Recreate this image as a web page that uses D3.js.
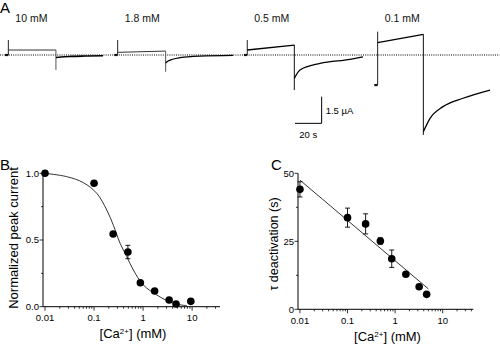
<!DOCTYPE html>
<html><head><meta charset="utf-8">
<script src="https://cdn.jsdelivr.net/npm/d3@7"></script>
<style>
html,body{margin:0;padding:0;background:#fff;}
svg{display:block;font-family:"Liberation Sans",Arial,sans-serif;}
</style></head>
<body><svg id="c" width="500" height="344"></svg>
<script>
// ---------- Panel A: current traces (time in s, current in µA) ----------
const sweepLabels = ["10 mM", "1.8 mM", "0.5 mM", "0.1 mM"];
const sweepOn = [2.5, 84.5, 181.7, 279.5];
const spikeTop = [0.84, 0.84, 0.84, 1.31];
const spikeBottom = [0, 0, 0, -1.69];
const plateauStart = [0.28, 0.15, 0.28, 0.69];
const sweepOff = [38.2, 120.5, 217, 313.8];
const plateauEnd = [0.28, 0.22, 0.56, 1.16];
const tailPeak = [-0.84, -0.94, -1.97, -4.49];
const tailTimes = [
  [38.2, 42, 50, 60, 73.5],
  [120.5, 122.3, 131.3, 146.3, 171],
  [217, 221.3, 236.3, 258.8, 268.5],
  [313.8, 318.8, 328.5, 343.5, 363.8]
];
const tailCurrents = [
  [-0.14, -0.11, -0.08, -0.06, -0.04],
  [-0.45, -0.34, -0.15, -0.06, -0.02],
  [-1.31, -0.84, -0.47, -0.24, -0.1],
  [-4.31, -3.56, -2.9, -2.43, -1.97]
];
const scaleBarTime = 20;      // s
const scaleBarCurrent = 1.5;  // µA

// ---------- Panel B: normalized peak current ----------
const concB = [0.01, 0.1, 0.245, 0.49, 0.88, 1.72, 3.4, 4.7, 9.4];
const peakB = [1.0, 0.925, 0.545, 0.41, 0.18, 0.118, 0.05, 0.02, 0.04];
const errB = [0, 0, 0, 0.05, 0, 0, 0, 0, 0];
const fitConcB = [0.01, 0.0277, 0.0605, 0.1135, 0.1815, 0.248, 0.34, 0.465, 0.634, 1.01, 1.9, 4.15, 7.8];
const fitPeakB = [1.0, 0.975, 0.93, 0.85, 0.725, 0.61, 0.475, 0.375, 0.275, 0.163, 0.088, 0.025, 0.008];
const yTicksB = [0, 0.5, 1.0];
const yTickLabelsB = ["0.0", "0.5", "1.0"];

// ---------- Panel C: tau deactivation ----------
const concC = [0.01, 0.1, 0.24, 0.49, 0.85, 1.68, 3.2, 4.6];
const tauC = [44.1, 33.7, 31.4, 25.1, 18.6, 12.9, 8.3, 5.5];
const errC = [2.8, 3.5, 3.7, 1.2, 3.2, 0, 0, 0];
const fitConcC = [0.01, 5];
const fitTauC = [47.5, 7.5];
const yTicksC = [0, 25, 50];
const yTickLabelsC = ["0", "25", "50"];

const xTickValues = [0.01, 0.1, 1, 10];
const xTickLabels = ["0.01", "0.1", "1", "10"];

const svg = d3.select("#c");

// ===== Panel A =====
const xA = d3.scaleLinear().domain([0, 370]).range([5, 498.3]);
const yA = d3.scaleLinear().domain([0, 1.5]).range([55, 28.3]);
const gA = svg.append("g");
const line = d3.line().x(d => xA(d[0])).y(d => yA(d[1]));
const curveLine = d3.line().x(d => xA(d[0])).y(d => yA(d[1])).curve(d3.curveMonotoneX);

// baseline (dotted)
gA.append("path").attr("d", line([[-3.75, 0], [371, 0]]))
  .attr("stroke", "#000").attr("stroke-width", 1).attr("stroke-dasharray", "1,1.2").attr("fill", "none");

sweepLabels.forEach((lab, i) => {
  const on = sweepOn[i], off = sweepOff[i];
  gA.append("path").attr("d", line([[on - 2.5, spikeBottom[i]], [on, spikeBottom[i]]]))
    .attr("stroke", "#111").attr("stroke-width", 2.2).attr("fill", "none");
  gA.append("path").attr("d", line([[on, spikeBottom[i]], [on, spikeTop[i]]]))
    .attr("stroke", "#222").attr("stroke-width", 1).attr("fill", "none");
  gA.append("path").attr("d", line([[on, plateauStart[i]], [off, plateauEnd[i]]]))
    .attr("stroke", i < 2 ? "#333" : "#000").attr("stroke-width", i < 2 ? 1 : 1.3).attr("fill", "none");
  gA.append("path").attr("d", line([[off, plateauEnd[i]], [off, tailPeak[i]]]))
    .attr("stroke", i < 2 ? "#555" : "#111").attr("stroke-width", 1).attr("fill", "none");
  const tail = tailTimes[i].map((t, k) => [t, tailCurrents[i][k]]);
  gA.append("path").attr("d", curveLine(tail))
    .attr("stroke", "#000").attr("stroke-width", i === 0 ? 1.6 : 1.3).attr("fill", "none");
  gA.append("text").attr("x", xA(on) + 7).attr("y", 21.5)
    .attr("font-size", 10.5).attr("fill", "#111").text(lab);
});

// scale bar
const sbT0 = 217.5, sbI0 = -3.84;
gA.append("path").attr("d", line([[sbT0, sbI0], [sbT0 + scaleBarTime, sbI0], [sbT0 + scaleBarTime, sbI0 + scaleBarCurrent]]))
  .attr("stroke", "#000").attr("stroke-width", 1).attr("fill", "none");
gA.append("text").attr("x", xA(sbT0 + scaleBarTime) + 4).attr("y", yA(sbI0 + scaleBarCurrent / 2) + 4)
  .attr("font-size", 9.5).text(scaleBarCurrent + " µA");
gA.append("text").attr("x", xA(sbT0 + scaleBarTime / 2)).attr("y", yA(sbI0) + 15)
  .attr("font-size", 9.5).attr("text-anchor", "middle").text(scaleBarTime + " s");

svg.append("text").attr("x", 0).attr("y", 13).attr("font-size", 15).text("A");

// ===== shared axis drawing =====
function logAxis(g, x, y0, labelDy) {
  const [d0, d1] = x.domain();
  g.append("line").attr("x1", x(d0)).attr("x2", x(d1)).attr("y1", y0).attr("y2", y0)
    .attr("stroke", "#000").attr("stroke-width", 1);
  const minor = [];
  for (let e = -3; e <= 2; e++) for (let m = 1; m < 10; m++) {
    const v = m * Math.pow(10, e);
    if (v >= d0 && v <= d1) minor.push(v);
  }
  g.selectAll(null).data(minor).enter().append("line")
    .attr("x1", d => x(d)).attr("x2", d => x(d)).attr("y1", y0)
    .attr("y2", d => xTickValues.includes(+d.toPrecision(6)) ? y0 + 4 : y0 + 2)
    .attr("stroke", "#000").attr("stroke-width", 0.8);
  g.selectAll(null).data(xTickValues).enter().append("text")
    .attr("x", d => x(d)).attr("y", y0 + labelDy).attr("text-anchor", "middle")
    .attr("font-size", 9.5).text((d, i) => xTickLabels[i]);
}
function linAxis(g, x0, y, ticks, labels) {
  const [d0, d1] = y.domain();
  g.append("line").attr("x1", x0).attr("x2", x0).attr("y1", y(d0)).attr("y2", y(d1))
    .attr("stroke", "#000").attr("stroke-width", 1);
  const minor = [];
  for (let k = 0; k < ticks.length - 1; k++) minor.push((ticks[k] + ticks[k + 1]) / 2);
  g.selectAll(null).data(ticks).enter().append("line")
    .attr("x1", x0 - 3.5).attr("x2", x0).attr("y1", d => y(d)).attr("y2", d => y(d))
    .attr("stroke", "#000").attr("stroke-width", 0.8);
  g.selectAll(null).data(minor).enter().append("line")
    .attr("x1", x0 - 2).attr("x2", x0).attr("y1", d => y(d)).attr("y2", d => y(d))
    .attr("stroke", "#000").attr("stroke-width", 0.8);
  g.selectAll(null).data(ticks).enter().append("text")
    .attr("x", x0 - 4).attr("y", d => y(d) + 3.3).attr("text-anchor", "end")
    .attr("font-size", 9.5).text((d, i) => labels[i]);
}
function caLabel(g, cx, y) {
  const t = g.append("text").attr("x", cx).attr("y", y).attr("text-anchor", "middle").attr("font-size", 13);
  t.append("tspan").text("[Ca");
  t.append("tspan").attr("font-size", 8).attr("dy", -4.5).text("2+");
  t.append("tspan").attr("dy", 4.5).text("] (mM)");
}
function errorBars(g, x, y, cs, vs, es) {
  const d = cs.map((c, i) => ({c, v: vs[i], e: es[i]})).filter(o => o.e > 0);
  const eb = g.selectAll(null).data(d).enter().append("g");
  eb.append("line").attr("x1", o => x(o.c)).attr("x2", o => x(o.c))
    .attr("y1", o => y(o.v - o.e)).attr("y2", o => y(o.v + o.e)).attr("stroke", "#000").attr("stroke-width", 0.9);
  [1, -1].forEach(s => eb.append("line").attr("x1", o => x(o.c) - 2.5).attr("x2", o => x(o.c) + 2.5)
    .attr("y1", o => y(o.v + s * o.e)).attr("y2", o => y(o.v + s * o.e)).attr("stroke", "#000").attr("stroke-width", 0.9));
}

// ===== Panel B =====
const xB = d3.scaleLog().domain([0.0091, 37]).range([43, 220]);
const yB = d3.scaleLinear().domain([0, 1]).range([306.7, 173.3]);
const gB = svg.append("g");
logAxis(gB, xB, 306.7, 14.5);
linAxis(gB, 43, yB, yTicksB, yTickLabelsB);
gB.append("path").attr("d", d3.line().x(d => xB(d)).y((d, i) => yB(fitPeakB[i])).curve(d3.curveCatmullRom)(fitConcB))
  .attr("fill", "none").attr("stroke", "#000").attr("stroke-width", 0.8);
errorBars(gB, xB, yB, concB, peakB, errB);
gB.selectAll(null).data(concB).enter().append("circle")
  .attr("cx", d => xB(d)).attr("cy", (d, i) => yB(peakB[i])).attr("r", 3.8).attr("fill", "#000");
caLabel(gB, 133, 338);
gB.append("text").attr("transform", "translate(18,238) rotate(-90)").attr("text-anchor", "middle")
  .attr("font-size", 13).text("Normalized peak current");
svg.append("text").attr("x", 0).attr("y", 170).attr("font-size", 15).text("B");

// ===== Panel C =====
const xC = d3.scaleLog().domain([0.0091, 44]).range([298, 473.3]);
const yC = d3.scaleLinear().domain([0, 50]).range([309.3, 173.3]);
const gC = svg.append("g");
logAxis(gC, xC, 309.3, 15);
linAxis(gC, 298, yC, yTicksC, yTickLabelsC);
gC.append("path").attr("d", d3.line().x(d => xC(d)).y((d, i) => yC(fitTauC[i]))(fitConcC))
  .attr("fill", "none").attr("stroke", "#000").attr("stroke-width", 0.8);
errorBars(gC, xC, yC, concC, tauC, errC);
gC.selectAll(null).data(concC).enter().append("circle")
  .attr("cx", d => xC(d)).attr("cy", (d, i) => yC(tauC[i])).attr("r", 3.8).attr("fill", "#000");
caLabel(gC, 387.5, 341);
gC.append("text").attr("transform", "translate(278,244) rotate(-90)").attr("text-anchor", "middle")
  .attr("font-size", 12.5).text("τ deactivation (s)");
svg.append("text").attr("x", 271).attr("y", 170).attr("font-size", 15).text("C");
</script></body></html>
